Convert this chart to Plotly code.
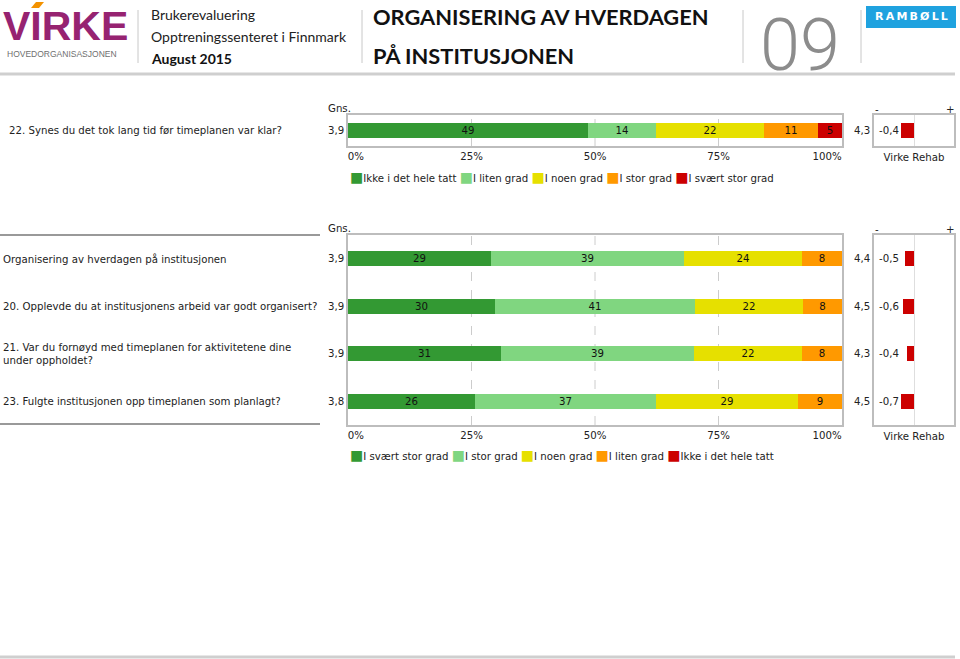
import plotly.graph_objects as go

W, H = 960, 659

# ---------------- data ----------------
colors = ["#339933", "#80D680", "#E6E000", "#FF9900", "#CC0000"]

top_question = "22. Synes du det tok lang tid før timeplanen var klar?"
top_answers = ["Ikke i det hele tatt", "I liten grad", "I noen grad", "I stor grad", "I svært stor grad"]
top_shares = [49, 14, 22, 11, 5]
top_gns = "3,9"
top_virke = "4,3"
top_diff = -0.4

bottom_questions = [
    "Organisering av hverdagen på institusjonen",
    "20. Opplevde du at institusjonens arbeid var godt organisert?",
    "21. Var du fornøyd med timeplanen for aktivitetene dine<br>under oppholdet?",
    "23. Fulgte institusjonen opp timeplanen som planlagt?",
]
bottom_answers = ["I svært stor grad", "I stor grad", "I noen grad", "I liten grad", "Ikke i det hele tatt"]
bottom_svaert_stor = [29, 30, 31, 26]
bottom_stor = [39, 41, 39, 37]
bottom_noen = [24, 22, 22, 29]
bottom_liten = [8, 8, 8, 9]
bottom_ikke = [0, 0, 0, 0]
bottom_gns = ["3,9", "3,9", "3,9", "3,8"]
bottom_virke = ["4,4", "4,5", "4,3", "4,5"]
bottom_diff = [-0.5, -0.6, -0.4, -0.7]

tick_values = [0, 25, 50, 75, 100]
tick_labels = ["0%", "25%", "50%", "75%", "100%"]

# ---------------- helpers ----------------
def px(x):
    return x / W

def py(y):
    return 1 - y / H

BODY = "DejaVu Sans"
HEAD = "Lato"
TXT = "#222222"
FRAME = "#bdbdbd"
FS = 10.2

def fmt(v):
    return f"{v:.1f}".replace(".", ",")

fig = go.Figure()

# ---------------- top section ----------------
tot = sum(top_shares)
for name, val, col in zip(top_answers, top_shares, colors):
    fig.add_trace(go.Bar(
        x=[val / tot * 100], y=[top_question], orientation="h", name=name,
        marker=dict(color=col, line=dict(width=0)), width=0.48,
        text=[str(val) if val > 0 else ""], textposition="inside",
        insidetextanchor="middle", textangle=0, constraintext="none",
        textfont=dict(family=BODY, size=FS, color="#111111"),
        xaxis="x", yaxis="y", showlegend=False))

fig.add_trace(go.Bar(
    x=[top_diff], y=[top_question], orientation="h", name="Virke Rehab",
    marker=dict(color=colors[4], line=dict(width=0)), width=0.48,
    xaxis="x2", yaxis="y2", showlegend=False))

# ---------------- bottom section ----------------
bottom_series = [bottom_svaert_stor, bottom_stor, bottom_noen, bottom_liten, bottom_ikke]
row_tot = [sum(r) for r in zip(*bottom_series)]
for name, vals, col in zip(bottom_answers, bottom_series, colors):
    fig.add_trace(go.Bar(
        x=[v / t * 100 for v, t in zip(vals, row_tot)], y=bottom_questions,
        orientation="h", name=name,
        marker=dict(color=col, line=dict(width=0)), width=0.316,
        text=[str(v) if v > 0 else "" for v in vals], textposition="inside",
        insidetextanchor="middle", textangle=0, constraintext="none",
        textfont=dict(family=BODY, size=FS, color="#111111"),
        xaxis="x3", yaxis="y3", showlegend=False))

fig.add_trace(go.Bar(
    x=bottom_diff, y=bottom_questions, orientation="h", name="Virke Rehab",
    marker=dict(color=colors[4], line=dict(width=0)), width=0.316,
    xaxis="x4", yaxis="y4", showlegend=False))

# ---------------- axes ----------------
main_x = [px(348), px(842)]
small_x = [px(874), px(954)]
top_y = [py(146), py(115)]
bot_y = [py(425), py(235)]

nudge = {0: 1.6, 100: -3.0}
tick_pos = [t + nudge.get(t, 0) for t in tick_values]

def main_xaxis(anchor, dom):
    return dict(domain=dom, anchor=anchor, range=[0, 100], showline=True, mirror=True,
                linecolor=FRAME, linewidth=1.5, showgrid=False, zeroline=False,
                tickmode="array", tickvals=tick_pos, ticktext=tick_labels, ticks="",
                tickfont=dict(family=BODY, size=FS, color=TXT), fixedrange=True)

def small_xaxis(anchor, dom, rng):
    return dict(domain=dom, anchor=anchor, range=rng, showline=True, mirror=True,
                linecolor=FRAME, linewidth=1.5, showgrid=False, zeroline=True,
                zerolinecolor="#dedede", zerolinewidth=1, showticklabels=False, ticks="",
                title=dict(text="Virke Rehab", standoff=7,
                           font=dict(family=BODY, size=FS, color=TXT)))

def yax(anchor, dom, cats, labels, rng):
    return dict(domain=dom, anchor=anchor, type="category", categoryorder="array",
                categoryarray=cats, range=rng, showline=True, mirror=True,
                linecolor=FRAME, linewidth=1.5, showgrid=False, zeroline=False,
                tickmode="array", tickvals=cats, ticktext=labels, ticks="",
                tickfont=dict(family=BODY, size=FS, color=TXT))

n = len(bottom_questions)
fig.update_layout(
    width=W, height=H, margin=dict(l=0, r=0, t=0, b=0),
    paper_bgcolor="white", plot_bgcolor="white", barmode="stack", bargap=0,
    xaxis=main_xaxis("y", main_x),
    yaxis=yax("x", top_y, [top_question], [top_gns], [-0.5, 0.5]),
    xaxis2=small_xaxis("y2", small_x, [-1.23, 1.23]),
    yaxis2=yax("x2", top_y, [top_question], [top_virke], [-0.5, 0.5]),
    xaxis3=main_xaxis("y3", main_x),
    yaxis3=yax("x3", bot_y, bottom_questions, bottom_gns, [n - 0.5, -0.5]),
    xaxis4=small_xaxis("y4", small_x, [-2.15, 2.15]),
    yaxis4=yax("x4", bot_y, bottom_questions, bottom_virke, [n - 0.5, -0.5]),
)

# dashed gridlines at inner ticks
shapes = []
for xr, yr in (("x", "y domain"), ("x3", "y3 domain")):
    for t in tick_values[1:-1]:
        shapes.append(dict(type="line", xref=xr, yref=yr, x0=t, x1=t, y0=0, y1=1,
                           line=dict(color="#cccccc", width=1, dash="dash"), layer="below"))

# page decoration lines
def hline(x0, x1, y, color, w):
    return dict(type="line", xref="paper", yref="paper", x0=px(x0), x1=px(x1),
                y0=py(y), y1=py(y), line=dict(color=color, width=w))

def vline(x, y0, y1):
    return dict(type="line", xref="paper", yref="paper", x0=px(x), x1=px(x),
                y0=py(y0), y1=py(y1), line=dict(color="#c8c8c8", width=1))

shapes += [
    hline(0, 955, 74, "#cfcfcf", 3),
    hline(0, 955, 657, "#cfcfcf", 3),
    hline(0, 320, 235, "#999999", 2),
    hline(0, 320, 424, "#999999", 2),
    vline(138, 10, 63), vline(362, 10, 63), vline(743, 10, 63), vline(861, 10, 63),
    dict(type="rect", xref="paper", yref="paper", x0=px(866), x1=px(956), y0=py(28), y1=py(6),
         fillcolor="#1FA2DF", line=dict(width=0)),
    dict(type="path", xref="paper", yref="paper",
         path=f"M {px(31)},{py(8)} L {px(36)},{py(2)} L {px(44)},{py(2)} L {px(39)},{py(8)} Z",
         fillcolor="#F39200", line=dict(width=0)),
]
fig.update_layout(shapes=shapes)

# ---------------- annotations ----------------
ann = []

def text(x, y, s, size=FS, color=TXT, family=BODY, xanchor="left", xref="paper", yref="paper",
         align="left", weight=None, yanchor="middle"):
    f = dict(family=family, size=size, color=color)
    if weight:
        f["weight"] = weight
    ann.append(dict(x=x, y=y, xref=xref, yref=yref, text=s, showarrow=False, xanchor=xanchor,
                    yanchor=yanchor, align=align, font=f))

# header
text(px(1), py(25.8), "<b>VIRKE</b>", size=41, color="#962371", family="Liberation Sans")
text(px(5), py(53.6), "HOVEDORGANISASJONEN", size=8.5, color="#6f6f6f", family="Liberation Sans")
text(px(149), py(15), "Brukerevaluering", size=14, color="#222222", family=HEAD)
text(px(149), py(36), "Opptreningssenteret i Finnmark", size=14, color="#222222", family=HEAD)
text(px(149), py(58), "<b>August 2015</b>", size=14, color="#111111", family=HEAD)
text(px(371), py(17), "<b>ORGANISERING AV HVERDAGEN</b>", size=21.8, color="#111111", family=HEAD)
text(px(371), py(55), "<b>PÅ INSTITUSJONEN</b>", size=21.8, color="#111111", family=HEAD)
text(px(800), py(1), "09", size=72, color="#8c8c8c", family="Roboto", xanchor="center",
     weight=300, yanchor="top")
text(px(911), py(17), "<b>R\u2009A\u2009M\u2009B\u2009Ø\u2009L\u2009L</b>", size=11, color="white",
     family=BODY, xanchor="center")

# top section texts
text(px(7), top_question, top_question, yref="y")
text(px(326), py(108), "Gns.")
text(px(877), py(109), "-", xanchor="center")
text(px(950), py(109), "+", xanchor="center")
text(px(877), top_question, fmt(top_diff), yref="y2")

def legend_text(names):
    parts = [f"<span style='color:{c};font-size:14px'>■</span>{nm}" for nm, c in zip(names, colors)]
    return " ".join(parts)

text(px(348), py(177), legend_text(top_answers))

# bottom section texts
text(px(326), py(228), "Gns.")
text(px(877), py(229), "-", xanchor="center")
text(px(950), py(229), "+", xanchor="center")
for q, d in zip(bottom_questions, bottom_diff):
    text(px(1), q, q, yref="y3")
    text(px(877), q, fmt(d), yref="y4")
text(px(348), py(455), legend_text(bottom_answers))

fig.update_layout(annotations=ann)

fig.write_html("out.html", config={"displayModeBar": False},
               post_script="document.body.style.margin='0px';")
